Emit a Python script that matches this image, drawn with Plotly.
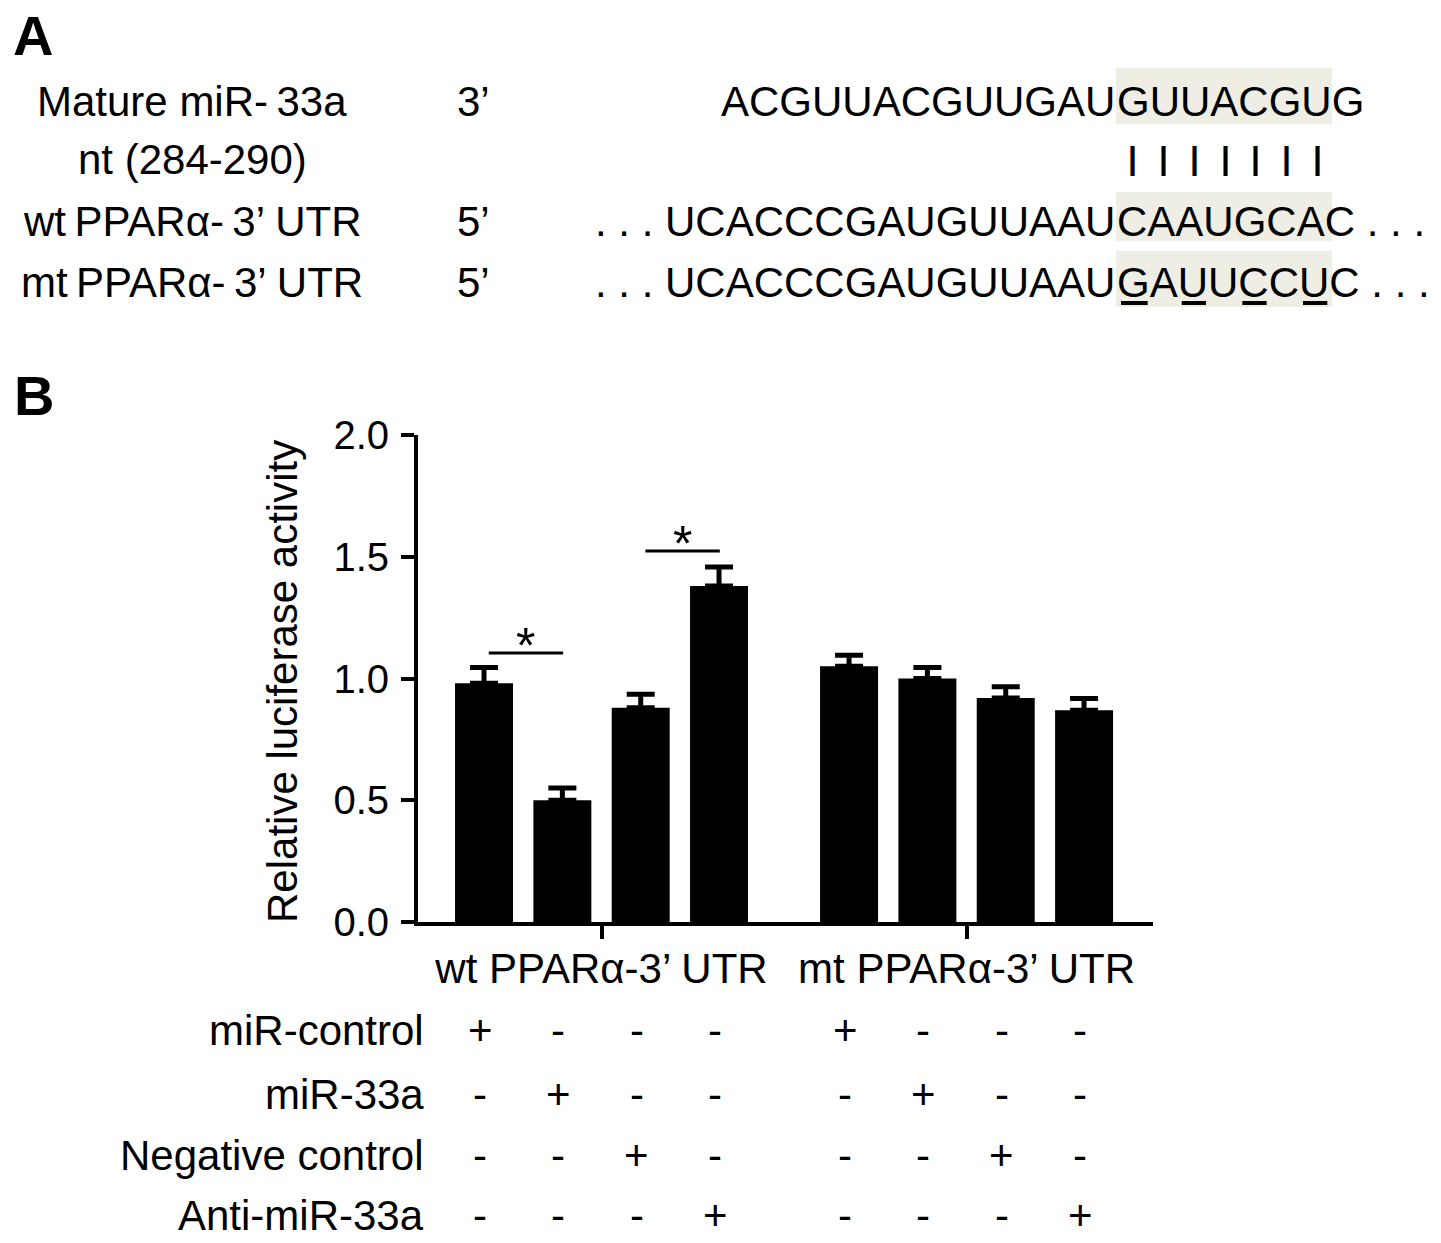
import plotly.graph_objects as go

W, H = 1441, 1243
FONT = "Liberation Sans, Arial, sans-serif"

# ---- data ----
groups = ["wt PPARα-3’ UTR", "mt PPARα-3’ UTR"]
treatments = ["miR-control", "miR-33a", "Negative control", "Anti-miR-33a"]
means = [0.98, 0.50, 0.88, 1.38, 1.05, 1.00, 0.92, 0.87]
errors = [0.065, 0.05, 0.055, 0.078, 0.045, 0.045, 0.046, 0.048]
# which treatment each bar received (index into treatments)
bar_treatment = [0, 1, 2, 3, 0, 1, 2, 3]
sig_pairs = [(0, 1), (2, 3)]
sig_level = [1.105, 1.524]

seq_labels = ["Mature miR-\u200933a", "nt (284-290)", "wt\u2009PPARα-\u20093’ UTR", "mt\u2009PPARα-\u20093’ UTR"]
seq_ends = ["3’", "", "5’", "5’"]
seq_prefix = ["ACGUUACGUUGAU", "", ". . . UCACCCGAUGUUAAU", ". . . UCACCCGAUGUUAAU"]
seq_seed = ["GUUACGU", "", "CAAUGCA", "GAUUCCU"]
seq_suffix = ["G", "", "C . . .", "C . . ."]
n_pairs = 7
mutated = [0, 2, 4, 6]  # underlined bases of the mt seed

# Arial / Liberation Sans advance widths (em) of the bases
glyph_w = {"A": 0.667, "C": 0.722, "G": 0.778, "U": 0.722}
FS = 42


def X(p):
    return p / W


def Y(p):
    return 1 - p / H


gap = 0.66
xpos = [g * (4 + gap) + j for g in range(2) for j in range(4)]
group_centers = [g * (4 + gap) + 1.5 for g in range(2)]

fig = go.Figure()
fig.add_trace(go.Bar(
    x=xpos, y=means, width=0.74,
    marker=dict(color="black", line=dict(width=0)),
    error_y=dict(type="data", array=errors, arrayminus=[0] * len(errors), symmetric=False,
                 color="black", thickness=5, width=14),
    showlegend=False,
))

ann = []
shapes = []

# panel letters
ann.append(dict(text="<b>A</b>", x=X(33), y=Y(35), font=dict(size=56)))
ann.append(dict(text="<b>B</b>", x=X(34), y=Y(395), font=dict(size=56)))

# panel A
row_y = [101, 160, 221, 282]
box_l, box_r = 1116, 1332
hl_rows = [(68, 124), (192, 241), (251, 307)]
for y0, y1 in hl_rows:
    shapes.append(dict(type="rect", xref="paper", yref="paper", x0=X(box_l), x1=X(box_r),
                       y0=Y(y1), y1=Y(y0), fillcolor="#eeeee4", line=dict(width=0), layer="below"))

for r, yc in enumerate(row_y):
    ann.append(dict(text=seq_labels[r], x=X(192), y=Y(yc), xanchor="center"))
    if seq_ends[r]:
        ann.append(dict(text=seq_ends[r], x=X(473), y=Y(yc), xanchor="center"))
    if seq_prefix[r]:
        ann.append(dict(text=seq_prefix[r], x=X(box_l + 1), y=Y(yc), xanchor="right"))
    if seq_seed[r]:
        ann.append(dict(text=seq_seed[r] + seq_suffix[r], x=X(box_l - 1), y=Y(yc), xanchor="left"))

# base-pairing ticks
step = (box_r - box_l) / n_pairs
for i in range(n_pairs):
    ann.append(dict(text="<b>|</b>", x=X(box_l + step * (i + 0.5) + 1), y=Y(158), font=dict(size=32)))

# underline the mutated bases
x_start = box_l + 2
offs = [0]
for ch in seq_seed[3]:
    offs.append(offs[-1] + glyph_w[ch] * FS)
for i in mutated:
    shapes.append(dict(type="line", xref="paper", yref="paper",
                       x0=X(x_start + offs[i] + 3), x1=X(x_start + offs[i + 1] - 3),
                       y0=Y(303), y1=Y(303), line=dict(color="black", width=4)))

# significance brackets
for (a, b), lv in zip(sig_pairs, sig_level):
    shapes.append(dict(type="line", xref="x", yref="y", x0=xpos[a] + 0.06, x1=xpos[b] + 0.01,
                       y0=lv, y1=lv, line=dict(color="black", width=3)))
    ann.append(dict(text="*", xref="x", yref="y", x=(xpos[a] + xpos[b]) / 2 + 0.03, y=lv,
                    yanchor="bottom", yshift=-23, font=dict(size=50)))

# y title
ann.append(dict(text="Relative luciferase activity", x=X(282), y=Y(682), textangle=-90))

# treatment table
table_y = [1030, 1094, 1155, 1215]
for t, name in enumerate(treatments):
    ann.append(dict(text=name, x=X(426), y=Y(table_y[t]), xanchor="right"))
    for b, xb in enumerate(xpos):
        mark = "+" if bar_treatment[b] == t else "-"
        ann.append(dict(text=mark, xref="x", x=xb - 0.05, y=Y(table_y[t])))

for a in ann:
    a.setdefault("xref", "paper")
    a.setdefault("yref", "paper")
    a.setdefault("showarrow", False)
    a.setdefault("xanchor", "center")
    a.setdefault("yanchor", "middle")
    a.setdefault("font", dict(size=FS))
    a["font"].setdefault("color", "black")
    a["font"].setdefault("family", FONT)

fig.update_layout(
    template="none",
    width=W, height=H,
    margin=dict(l=0, r=0, t=0, b=0, pad=0, autoexpand=False),
    paper_bgcolor="white", plot_bgcolor="white",
    font=dict(family=FONT, size=FS, color="black"),
    annotations=ann, shapes=shapes,
    showlegend=False,
    xaxis=dict(domain=[X(418), X(1153)], range=[-0.843, 8.54],
               tickvals=group_centers, ticktext=groups,
               showline=True, linewidth=4, linecolor="black",
               ticks="outside", ticklen=13, tickwidth=4, tickcolor="black",
               ticklabelstandoff=-6,
               tickfont=dict(size=FS), showgrid=False, zeroline=False, automargin=False),
    yaxis=dict(domain=[Y(922), Y(435)], range=[0, 2],
               tickvals=[0, 0.5, 1.0, 1.5, 2.0], tickformat=".1f",
               showline=True, linewidth=4, linecolor="black",
               ticks="outside", ticklen=13, tickwidth=4, tickcolor="black",
               ticklabelstandoff=4,
               tickfont=dict(size=40), showgrid=False, zeroline=False, automargin=False),
)

# the page's default 8px body margin would shift the figure, drop it
fig.write_html("out.html", config={"displayModeBar": False},
               post_script="document.body.style.margin='0';")
